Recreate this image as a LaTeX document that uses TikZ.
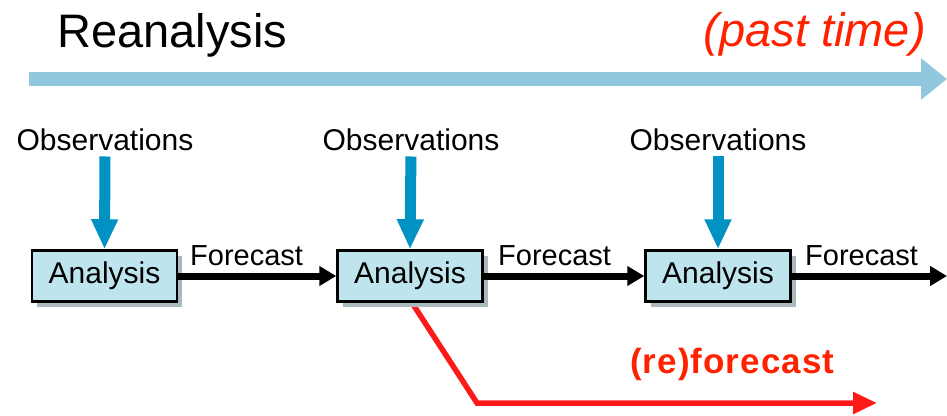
\documentclass[tikz,border=0pt]{standalone}
\usepackage{fontspec}
\setmainfont{Liberation Sans}
\usetikzlibrary{arrows.meta,shadows,backgrounds}
\definecolor{timeblue}{HTML}{92C8DE}
\definecolor{obsblue}{HTML}{0092C2}
\definecolor{boxfill}{HTML}{BEE4EE}
\definecolor{shadowgray}{HTML}{A9B9BD}
\definecolor{redline}{HTML}{FF1A1A}
\definecolor{redtext}{HTML}{FF2200}
\tikzset{
  anbox/.style={draw=black, line width=2.5pt, fill=boxfill, minimum width=145pt, minimum height=51pt,
    inner sep=0pt, font=\fontsize{30}{36}\selectfont,
    drop shadow={shadow xshift=5pt, shadow yshift=-5pt, fill=shadowgray, opacity=1}},
  obslabel/.style={inner sep=0pt, anchor=base, font=\fontsize{30}{36}\selectfont},
  fclabel/.style={inner sep=0pt, anchor=base west, font=\fontsize{29}{35}\selectfont},
  fcarrow/.style={line width=7pt, -{Triangle[length=17pt,width=19pt]}},
  obsarrow/.style={obsblue, line width=11pt, shorten <=6pt, -{Triangle[length=30pt,width=25pt]}},
  timearrow/.style={timeblue, line width=14pt, -{Triangle[length=26pt,width=40pt]}},
  rearrow/.style={redline, line width=5.5pt, -{Triangle[length=24pt,width=21pt]}}
}
\begin{document}
\begin{tikzpicture}[x=1pt,y=-1pt]
\useasboundingbox (0,0) rectangle (947,415);
% title texts
\node[inner sep=0pt, anchor=base west, font=\fontsize{47}{56}\selectfont] (title) at (57,47) {Reanalysis};
\node[inner sep=0pt, anchor=base east, text=redtext, font=\fontsize{47}{56}\selectfont\itshape] (past) at (926,46) {(past time)};
% time arrow
\coordinate (ts) at (29,79);
\coordinate (te) at (947,79);
\draw[timearrow] (ts) -- (te);
% observations
\node[obslabel] (o1) at (105,150) {Observations};
\node[obslabel] (o2) at (411,150) {Observations};
\node[obslabel] (o3) at (718,150) {Observations};
% analysis boxes
\node[anbox] (a1) at (104.5,276) {Analysis};
\node[anbox] (a2) at (410,276) {Analysis};
\node[anbox] (a3) at (718,276) {Analysis};
% observation arrows
\draw[obsarrow] (o1.south) -- (a1.north);
\draw[obsarrow] (o2.south) -- (a2.north);
\draw[obsarrow] (o3.south) -- (a3.north);
% forecast arrows
\coordinate (fend) at (947,277);
\draw[fcarrow] (a1.east) -- (a2.west);
\draw[fcarrow] (a2.east) -- (a3.west);
\draw[fcarrow] (a3.east) -- (fend |- a3.east);
\node[fclabel] (f1) at (190,265) {Forecast};
\node[fclabel] (f2) at (498,265) {Forecast};
\node[fclabel] (f3) at (805,265) {Forecast};
% reforecast
\coordinate (r1) at (477,403);
\coordinate (r2) at (877,403);
\begin{pgfonlayer}{background}
\draw[rearrow] ([xshift=2pt]a2.south) -- (r1) -- (r2);
\end{pgfonlayer}
\node[inner sep=0pt, anchor=base west, text=redtext, font=\fontsize{35}{42}\selectfont\bfseries\addfontfeature{LetterSpace=3}] (rf) at (630,373) {(re)forecast};
\end{tikzpicture}
\end{document}
